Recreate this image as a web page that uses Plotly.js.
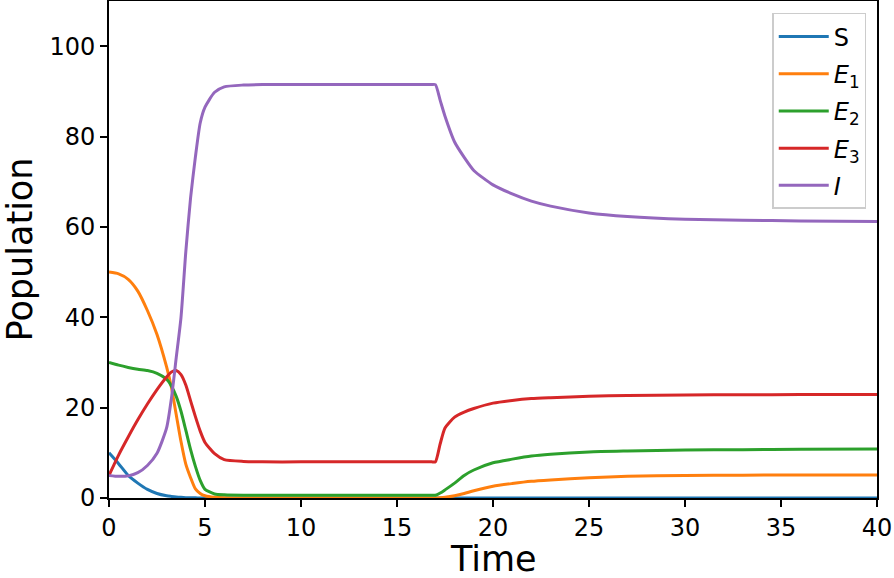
<!DOCTYPE html>
<html>
<head>
<meta charset="utf-8">
<script src="https://cdn.plot.ly/plotly-3.0.1.min.js"></script>
<style>
  html, body { margin:0; padding:0; background:#fff; }
  #chart { width:894px; height:578px; }
</style>
</head>
<body>
<div id="chart"></div>
<script>
// values
var time = [0, 0.5, 1, 1.5, 2, 2.5, 3, 3.25, 3.5, 3.75, 4, 4.25, 4.5, 4.75, 5, 5.5, 6, 7, 8, 10, 12, 14, 16, 16.8,
            17, 17.25, 17.5, 18, 18.5, 19, 20, 21, 22, 23, 25, 27, 30, 33, 36, 40];

var S  = [10, 7.6, 5.0, 3.3, 1.9, 1.0, 0.5, 0.35, 0.22, 0.14, 0.08, 0.05, 0.03, 0.02, 0.01, 0, 0, 0, 0, 0, 0, 0, 0, 0,
          0, 0, 0, 0, 0, 0, 0, 0, 0, 0, 0, 0, 0, 0, 0, 0];
var E1 = [50, 49.6, 48.4, 45.8, 41.5, 36.2, 29, 24.5, 18.5, 12.5, 7.5, 4.5, 2.0, 1.0, 0.5, 0.15, 0.05, 0, 0, 0, 0, 0, 0, 0,
          0, 0.05, 0.15, 0.5, 1.0, 1.6, 2.6, 3.2, 3.7, 4.0, 4.5, 4.8, 5.0, 5.05, 5.1, 5.1];
var E2 = [30, 29.4, 28.9, 28.5, 28.2, 27.6, 26.3, 24.8, 22.5, 19.2, 15, 10.7, 7, 3.9, 1.9, 0.9, 0.7, 0.6, 0.6, 0.6, 0.6, 0.6, 0.6, 0.6,
          0.6, 1.1, 1.8, 3.3, 5.0, 6.2, 7.8, 8.6, 9.3, 9.7, 10.2, 10.4, 10.6, 10.7, 10.8, 10.85];
var E3 = [5, 9.5, 13.5, 17.3, 20.8, 24, 26.8, 27.9, 28.2, 27.3, 25, 21.5, 18, 14.8, 12.3, 9.8, 8.5, 8.1, 8.0, 8.0, 8.0, 8.0, 8.0, 8.0,
          8.0, 12, 15.5, 17.9, 19.0, 19.8, 21, 21.6, 22, 22.2, 22.5, 22.7, 22.8, 22.85, 22.9, 22.9];
var I  = [5, 4.8, 4.9, 5.6, 7.2, 9.9, 15.5, 22, 31, 40, 54.5, 66.5, 75.5, 83, 86.5, 89.8, 91, 91.4, 91.5, 91.5, 91.5, 91.5, 91.5, 91.5,
          91.5, 88, 84.5, 78.8, 75.4, 72.5, 69.3, 67.3, 65.7, 64.6, 63.1, 62.3, 61.7, 61.5, 61.3, 61.2];

var names  = ["S", "<i>E</i><sub>1</sub>", "<i>E</i><sub>2</sub>", "<i>E</i><sub>3</sub>", "<i>I</i>"];
var colors = ["#1f77b4", "#ff7f0e", "#2ca02c", "#d62728", "#9467bd"];
var series = [S, E1, E2, E3, I];

var traces = series.map(function(y, i) {
  return {x: time, y: y, type: "scatter", mode: "lines", name: names[i], legendgroup: "g" + i,
          line: {color: colors[i], width: 3, shape: "spline", smoothing: 0.6}};
});

var axisBase = {
  showline: true, linecolor: "#000", linewidth: 2, mirror: true,
  ticks: "outside", ticklen: 7, tickwidth: 2, tickcolor: "#000",
  showgrid: false, zeroline: false,
  tickfont: {family: "DejaVu Sans", size: 24, color: "#000"}
};

var layout = {
  width: 894, height: 578,
  paper_bgcolor: "#fff", plot_bgcolor: "#fff",
  margin: {l: 109, r: 17, t: 1, b: 80},
  font: {family: "DejaVu Sans", color: "#000"},
  xaxis: Object.assign({}, axisBase, {
    range: [0, 40], tickvals: [0, 5, 10, 15, 20, 25, 30, 35, 40]
  }),
  yaxis: Object.assign({}, axisBase, {
    range: [0, 110], tickvals: [0, 20, 40, 60, 80, 100],
    title: {text: "Population", font: {family: "DejaVu Sans", size: 35}, standoff: 12}
  }),
  // x title as an annotation so it can sit a bit lower, like the reference
  annotations: [{
    text: "Time", xref: "paper", yref: "paper", x: 0.5, y: 0,
    xanchor: "center", yanchor: "middle", yshift: -61, showarrow: false,
    font: {family: "DejaVu Sans", size: 35, color: "#000"}
  }],
  legend: {
    x: 0.986, y: 0.976, xanchor: "right", yanchor: "top",
    bgcolor: "rgba(255,255,255,0.8)", bordercolor: "#cccccc", borderwidth: 1.5,
    itemwidth: 50, tracegroupgap: 3,
    font: {family: "DejaVu Sans", size: 24, color: "#000"}
  },
  showlegend: true
};

Plotly.newPlot("chart", traces, layout, {displayModeBar: false, staticPlot: true});
</script>
</body>
</html>
